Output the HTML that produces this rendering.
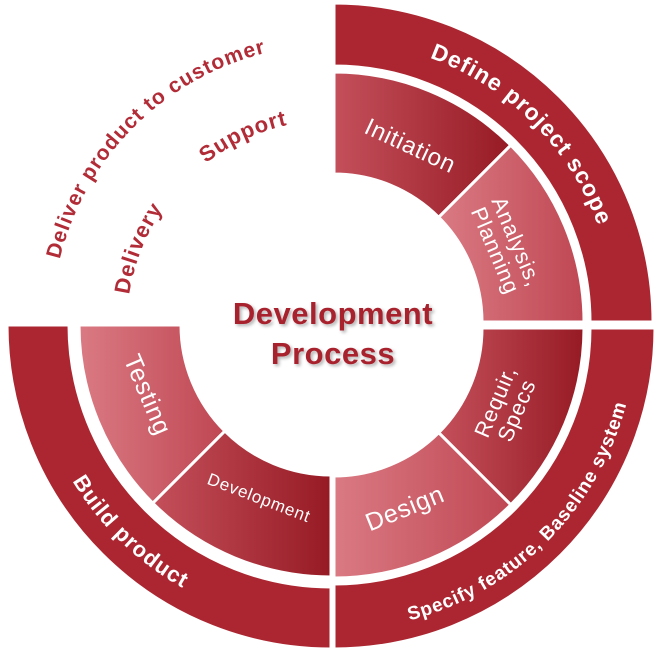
<!DOCTYPE html>
<html><head><meta charset="utf-8"><style>
html,body{margin:0;padding:0;background:#fff;}
svg{display:block;}
text{font-family:"Liberation Sans",sans-serif;}
</style></head><body>
<svg width="658" height="650" viewBox="0 0 658 650" xmlns="http://www.w3.org/2000/svg">
<defs>
<linearGradient id="dk" x1="0" y1="0" x2="1" y2="0"><stop offset="0" stop-color="#c4505b"/><stop offset="1" stop-color="#961a24"/></linearGradient>
<linearGradient id="lt" x1="0" y1="0" x2="1" y2="0"><stop offset="0" stop-color="#da7a83"/><stop offset="1" stop-color="#bf4753"/></linearGradient>
<filter id="sh" x="-20%" y="-20%" width="140%" height="140%"><feDropShadow dx="2" dy="2" stdDeviation="1.5" flood-color="#000" flood-opacity="0.3"/></filter>
<path id="pTR" d="M334,41 A281,281 0 0 1 615,322"/>
<path id="pBR" d="M334,630 A302,302 0 0 0 636,328"/>
<path id="pBL" d="M29,325 A302,302 0 0 0 331,627"/>
<path id="pTL" d="M52,325 A280,280 0 0 1 332,45"/>
<path id="pTL2" d="M127,325 A205,205 0 0 1 332,120"/>
</defs>
<g stroke="#fff" stroke-width="3">
<path fill="#ab2630" d="M334,3 A319,319 0 0 1 653,322 L590,322 A256,256 0 0 0 334,66 Z"/>
<path fill="#ab2630" d="M655,328 A321,321 0 0 1 334,649 L334,584 A256,256 0 0 0 590,328 Z"/>
<path fill="#ab2630" d="M7,325 A324,324 0 0 0 331,649 L331,587 A262,262 0 0 1 69,325 Z"/>
<path fill="url(#dk)" d="M334,72 A250,250 0 0 1 510.8,145.2 L438.7,217.3 A148,148 0 0 0 334,174 Z"/>
<path fill="url(#lt)" d="M510.8,145.2 A250,250 0 0 1 584,322 L482,322 A148,148 0 0 0 438.7,217.3 Z"/>
<path fill="url(#dk)" d="M584,328 A250,250 0 0 1 510.8,504.8 L438.7,432.7 A148,148 0 0 0 482,328 Z"/>
<path fill="url(#lt)" d="M510.8,504.8 A250,250 0 0 1 334,578 L334,476 A148,148 0 0 0 438.7,432.7 Z"/>
<path fill="url(#lt)" d="M79,325 A252,252 0 0 0 152.8,503.2 L224.9,431.1 A150,150 0 0 1 181,325 Z"/>
<path fill="url(#dk)" d="M152.8,503.2 A252,252 0 0 0 331,577 L331,475 A150,150 0 0 1 224.9,431.1 Z"/>
</g>
<text font-size="23" font-weight="bold" letter-spacing="1" fill="#fff" text-anchor="middle"><textPath href="#pTR" startOffset="50%">Define project scope</textPath></text>
<text font-size="19" font-weight="bold" letter-spacing="0.8" fill="#fff" text-anchor="middle"><textPath href="#pBR" startOffset="50%">Specify feature, Baseline system</textPath></text>
<text font-size="22" font-weight="bold" letter-spacing="1" fill="#fff" text-anchor="middle"><textPath href="#pBL" startOffset="51%">Build product</textPath></text>
<text font-size="21" font-weight="bold" letter-spacing="1" fill="#b12c37" text-anchor="middle"><textPath href="#pTL" startOffset="50%">Deliver product to customer</textPath></text>
<text font-size="22" font-weight="bold" letter-spacing="1" fill="#b12c37" text-anchor="middle"><textPath href="#pTL2" startOffset="24%">Delivery</textPath></text>
<text font-size="22" font-weight="bold" letter-spacing="1" fill="#b12c37" text-anchor="middle"><textPath href="#pTL2" startOffset="72%">Support</textPath></text>
<g fill="#fff" text-anchor="middle" letter-spacing="0.8">
<text font-size="24" transform="translate(407,153) rotate(25)">Initiation</text>
<text font-size="22" transform="translate(506,246) rotate(67)"><tspan x="0" y="-4">Analysis,</tspan><tspan x="0" y="19">Planning</tspan></text>
<text font-size="22" transform="translate(506,406) rotate(-67)"><tspan x="0" y="-4">Requir,</tspan><tspan x="0" y="19">Specs</tspan></text>
<text font-size="25" transform="translate(408,516) rotate(-22)">Design</text>
<text font-size="17" transform="translate(257,503) rotate(21)">Development</text>
<text font-size="25" transform="translate(140,398) rotate(67)">Testing</text>
</g>
<g fill="#a8232e" font-weight="bold" font-size="31" letter-spacing="0.5" text-anchor="middle" filter="url(#sh)">
<text x="333" y="324">Development</text>
<text x="333" y="364">Process</text>
</g>
</svg>
</body></html>
